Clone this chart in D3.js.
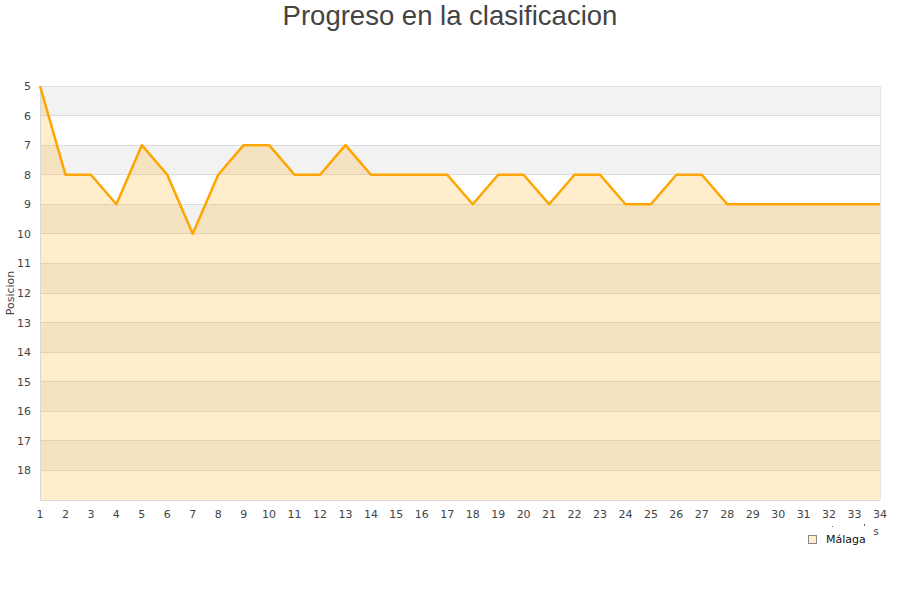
<!DOCTYPE html>
<html><head><meta charset="utf-8">
<script src="https://cdn.jsdelivr.net/npm/d3@7"></script>
<style>body{margin:0;background:#fff;font-family:"DejaVu Sans",sans-serif;}</style>
</head><body><svg id="c" width="900" height="600"></svg>
<script>
const jornadas = d3.range(1, 35);
const posiciones = [5,8,8,9,7,8,10,8,7,7,8,8,7,8,8,8,8,9,8,8,9,8,8,9,9,8,8,9,9,9,9,9,9,9];
const yTicks = d3.range(5, 19);
const title = "Progreso en la clasificacion";
const yLabel = "Posicion";
const seriesName = "Málaga";

const svg = d3.select("#c");
const L = 40, R = 880, T = 86, B = 500;
const x = d3.scaleLinear().domain([1, 34]).range([L, R]);
const y = d3.scaleLinear().domain([5, 19]).range([T, B]);

// bands
const bands = d3.range(5, 19);
svg.selectAll("rect.band").data(bands).enter().append("rect")
  .attr("x", L).attr("width", R - L)
  .attr("y", d => y(d)).attr("height", d => y(d + 1) - y(d))
  .attr("fill", d => (d % 2 === 1) ? "#f2f2f2" : "#ffffff");

// grid
svg.selectAll("line.grid").data(d3.range(5, 20)).enter().append("line")
  .attr("x1", L).attr("x2", R).attr("y1", d => y(d)).attr("y2", d => y(d))
  .attr("stroke", "#dddddd").attr("stroke-width", 1).attr("shape-rendering", "crispEdges");

const data = jornadas.map((j, i) => ({j, p: posiciones[i]}));
svg.append("path").datum(data)
  .attr("d", d3.area().x(d => x(d.j)).y0(B).y1(d => y(d.p)))
  .attr("fill", "rgba(255,165,0,0.2)");

// axes lines
svg.append("line").attr("x1", L).attr("x2", L).attr("y1", T).attr("y2", B)
  .attr("stroke", "#d8d8d8").attr("shape-rendering", "crispEdges");
svg.append("line").attr("x1", L).attr("x2", R).attr("y1", B).attr("y2", B)
  .attr("stroke", "#d8d8d8").attr("shape-rendering", "crispEdges");
svg.append("line").attr("x1", R).attr("x2", R).attr("y1", T).attr("y2", B)
  .attr("stroke", "#e6e6e6").attr("shape-rendering", "crispEdges");

svg.append("path").datum(data)
  .attr("d", d3.line().x(d => x(d.j)).y(d => y(d.p)))
  .attr("fill", "none").attr("stroke", "#ffa500").attr("stroke-width", 2.5)
  .attr("stroke-linejoin", "round");

// y ticks
svg.selectAll("text.yt").data(yTicks).enter().append("text")
  .attr("x", 31).attr("y", d => y(d) + 4)
  .attr("text-anchor", "end").attr("font-size", 11).attr("fill", "#444")
  .text(d => d);

// x ticks
svg.selectAll("text.xt").data(jornadas).enter().append("text")
  .attr("x", d => x(d)).attr("y", 518)
  .attr("text-anchor", "middle").attr("font-size", 11).attr("fill", "#444")
  .text(d => d);

svg.append("text").attr("x", 450).attr("y", 25).attr("text-anchor", "middle")
  .attr("font-size", 27.5).attr("fill", "#444").attr("font-family", "'Liberation Sans', Arial, sans-serif")
  .text(title);

svg.append("text").attr("transform", "translate(14,293) rotate(-90)")
  .attr("text-anchor", "middle").attr("font-size", 11).attr("fill", "#444").text(yLabel);

// clipped x-axis title remnant
svg.append("text").attr("x", 876).attr("y", 535).attr("text-anchor", "middle")
  .attr("font-size", 10).attr("fill", "#444").text("s");
svg.append("rect").attr("x", 832).attr("y", 526).attr("width", 1).attr("height", 1).attr("fill", "#666");
svg.append("rect").attr("x", 864).attr("y", 524).attr("width", 1).attr("height", 2).attr("fill", "#666");

// legend
svg.append("rect").attr("x", 808.5).attr("y", 535.5).attr("width", 8).attr("height", 8)
  .attr("fill", "rgba(255,165,0,0.2)").attr("stroke", "#888");
svg.append("text").attr("x", 826).attr("y", 543).attr("font-size", 11).attr("fill", "#111").text(seriesName);
</script></body></html>
